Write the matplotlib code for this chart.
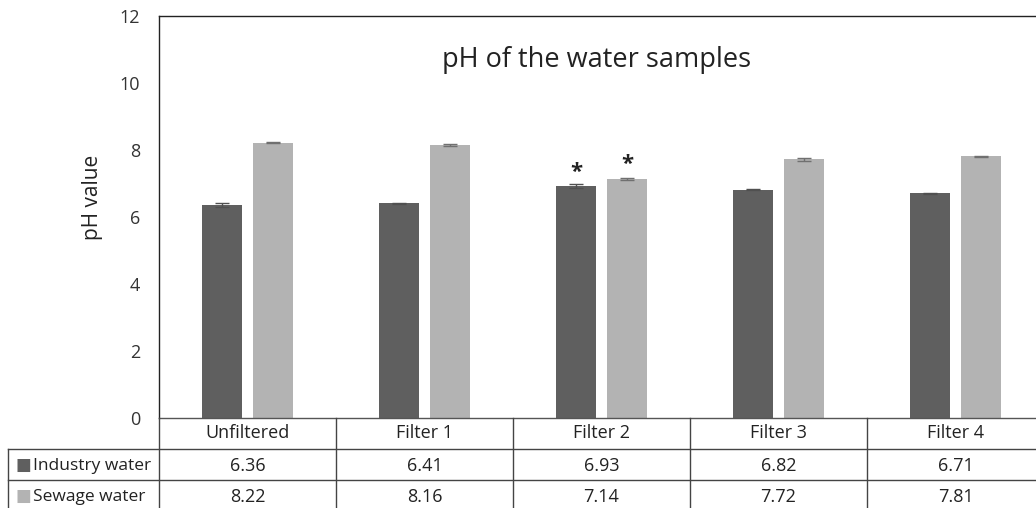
import numpy as np
import matplotlib
matplotlib.use("Agg")
import matplotlib.pyplot as plt

plt.rcParams['font.family'] = ['Open Sans', 'DejaVu Sans']

categories = ["Unfiltered", "Filter 1", "Filter 2", "Filter 3", "Filter 4"]
series_names = ["Industry water", "Sewage water"]
industry = [6.36, 6.41, 6.93, 6.82, 6.71]
sewage = [8.22, 8.16, 7.14, 7.72, 7.81]
industry_err = [0.07, 0.02, 0.05, 0.02, 0.01]
sewage_err = [0.02, 0.03, 0.03, 0.04, 0.02]
significant = ["", "", "*", "", ""]  # marker over both bars of a group

colors = ["#5f5f5f", "#b3b3b3"]
W, H = 1036, 508

fig = plt.figure(figsize=(W / 100, H / 100), dpi=100)

# main axes (right edge runs past the picture, as in the original)
left, right, top, bottom = 159, 1044, 16, 418
ax = fig.add_axes([left / W, 1 - bottom / H, (right - left) / W, (bottom - top) / H])

x = np.arange(len(categories))
bw = 0.226
off = 0.144
ax.bar(x - off, industry, bw, color=colors[0], yerr=industry_err,
       error_kw=dict(ecolor="#505050", capsize=5, elinewidth=1, capthick=1))
ax.bar(x + off, sewage, bw, color=colors[1], yerr=sewage_err,
       error_kw=dict(ecolor="#707070", capsize=5, elinewidth=1, capthick=1))

for i, s in enumerate(significant):
    if s:
        ax.text(x[i] - off, industry[i] + industry_err[i] + 0.35, s, ha="center",
                va="center", fontsize=16, fontweight="bold", color="#222222")
        ax.text(x[i] + off, sewage[i] + sewage_err[i] + 0.4, s, ha="center",
                va="center", fontsize=16, fontweight="bold", color="#222222")

ax.set_xlim(-0.5, len(categories) - 0.5)
ax.set_ylim(0, 12)
ax.set_yticks([0, 2, 4, 6, 8, 10, 12])
ax.tick_params(axis="y", length=0, pad=13.5, labelsize=13, labelcolor="#333333")
ax.set_xticks([])
for sp in ax.spines.values():
    sp.set_color("#222222")
    sp.set_linewidth(1)
ax.spines["bottom"].set_color("#555555")
ax.set_ylabel("pH value", fontsize=15, color="#222222")
ax.yaxis.set_label_coords(-0.063, 0.55)
ax.text(0.494, 0.89, "pH of the water samples", transform=ax.transAxes,
        ha="center", va="center", fontsize=19.5, color="#222222")

# data table under the plot
tleft = 8
row_h = 31
tab = fig.add_axes([tleft / W, 0, (right - tleft) / W, (H - bottom) / H])
tab.set_xlim(-0.5 - (left - tleft) / ((right - left) / len(categories)), len(categories) - 0.5)
tab.set_ylim((H - bottom) / row_h, 0)
tab.axis("off")
x0 = tab.get_xlim()[0]
lc = "#444444"
for r in (1, 2):
    tab.plot([x0, len(categories) - 0.5], [r, r], color=lc, lw=1, clip_on=False)
for b in np.arange(len(categories) + 1) - 0.5:
    tab.plot([b, b], [0, 3], color=lc, lw=1, clip_on=False)
tab.plot([x0, x0], [1, 3], color=lc, lw=1, clip_on=False)

for i, c in enumerate(categories):
    tab.text(x[i], 0.5, c, ha="center", va="center", fontsize=13, color="#222222")
for r, (name, vals, col) in enumerate(zip(series_names, [industry, sewage], colors)):
    y = 1.55 + r
    tab.text(x0 + 0.045, y, "\u25a0", ha="left", va="center", fontsize=12, color=col)
    tab.text(x0 + 0.142, y, name, ha="left", va="center", fontsize=12.5, color="#222222")
    for i, v in enumerate(vals):
        tab.text(x[i], y, f"{v:.2f}", ha="center", va="center", fontsize=13, color="#222222")

fig.savefig("out.png", dpi=100)
